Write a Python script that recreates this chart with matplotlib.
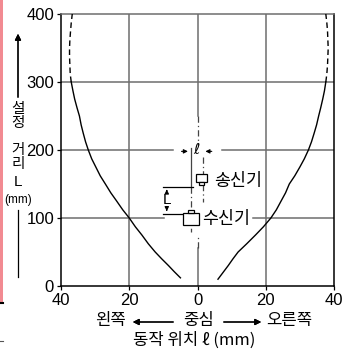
import matplotlib
matplotlib.use('Agg')
import matplotlib.pyplot as plt
from matplotlib import font_manager
from matplotlib.patches import Rectangle

# 곡선 데이터 (동작 위치 ℓ, 설정 거리 L)
left_x = [-5, -6.8, -8.5, -10.5, -12.4, -14.4, -16.3, -18.2, -20, -21.9, -23.7, -25.4,
          -27, -28.5, -29.8, -31, -32, -32.8, -33.5, -34.1, -34.6, -35.3, -36, -36.5, -37]
left_y = [12, 21, 30, 40, 50, 62, 75, 87, 100, 112, 125, 137,
          150, 162, 175, 187, 200, 212, 225, 237, 250, 262, 275, 287, 300]
left_dash_x = [-37, -37.3, -37.4, -37.5, -37.5, -37.4, -37.2, -37, -36.7]
left_dash_y = [300, 312, 325, 337, 350, 362, 375, 387, 400]

right_x = [6, 7.5, 9, 10.4, 11.9, 14.4, 17, 19.3, 21.5, 23.1, 24.5, 25.8,
           26.9, 28.5, 30, 31.3, 32.5, 33.4, 34.2, 34.9, 35.5, 36.1, 36.7, 37.2, 37.6]
right_y = [10, 20, 30, 40, 50, 62, 75, 87, 100, 112, 125, 137,
           150, 162, 175, 187, 200, 212, 225, 237, 250, 262, 275, 287, 300]
right_dash_x = [37.6, 37.9, 38.1, 38.2, 38.3, 38.2, 38.1, 37.9, 37.6]
right_dash_y = [300, 312, 325, 337, 350, 362, 375, 387, 400]

xticks = [-40, -20, 0, 20, 40]
xtick_labels = ['40', '20', '0', '20', '40']
yticks = [0, 100, 200, 300, 400]

kr = ['Noto Sans CJK KR', 'DejaVu Sans']
names = {f.name for f in font_manager.fontManager.ttflist}
num_font = 'Liberation Sans Narrow' if 'Liberation Sans Narrow' in names else 'Liberation Sans'

W, H = 342, 354
fig = plt.figure(figsize=(W / 100, H / 100), dpi=100)
ax = fig.add_axes([61 / W, 1 - 286 / H, 273 / W, 272 / H])
ax.set_xlim(-40, 40)
ax.set_ylim(0, 400)

def fx(px):
    return px / W

def fy(py):
    return 1 - py / H

grid = dict(color='#6e6e6e', lw=1.1, zorder=1)
# 세로 격자선
for gx in [-20, 20]:
    ax.plot([gx, gx], [0, 400], **grid)
ax.plot([0, 0], [250, 400], **grid)
ax.plot([0, 0], [0, 56], **grid)
# 가로 격자선 (중앙부 끊김)
ax.plot([-40, 40], [300, 300], **grid)
ax.plot([-40, -7.3], [200, 200], **grid)
ax.plot([7.2, 40], [200, 200], **grid)
ax.plot([-40, -9.7], [100, 100], **grid)
ax.plot([16.3, 40], [100, 100], **grid)

# 곡선
ax.plot(left_x, left_y, color='black', lw=1.0, zorder=3)
ax.plot(left_dash_x, left_dash_y, color='black', lw=1.0, ls=(0, (4, 2.5)), zorder=3)
ax.plot(right_x, right_y, color='black', lw=1.0, zorder=3)
ax.plot(right_dash_x, right_dash_y, color='black', lw=1.0, ls=(0, (4, 2.5)), zorder=3)

# 중심선/광축 (일점쇄선)
dd = dict(color='#444444', lw=0.9, ls=(0, (5, 2.5, 1, 2.5)), zorder=2)
ax.plot([0, 0], [250, 207], **dd)
ax.plot([0, 0], [56, 75], **dd)
ax.plot([1.5, 1.5], [190, 124], **dd)
ax.plot([-2, -2], [146, 80], **dd)
ax.plot([-2, -2], [146, 203], color='#444444', lw=0.9, zorder=2)

# ℓ 치수
arr = dict(arrowstyle='-|>', color='black', lw=0.8, mutation_scale=6)
ax.annotate('', xy=(-2, 198), xytext=(-5.5, 198), arrowprops=arr)
ax.annotate('', xy=(1.5, 198), xytext=(5, 198), arrowprops=arr)
ax.text(-0.2, 200, 'ℓ', fontsize=11, ha='center', va='center', family=['DejaVu Sans'])

# L 치수
ax.plot([-10.1, -1.4], [146, 146], color='black', lw=0.9)
ax.plot([-10.1, -4.3], [106, 106], color='black', lw=0.9)
ax.annotate('', xy=(-9, 146), xytext=(-9, 136), arrowprops=arr)
ax.annotate('', xy=(-9, 106), xytext=(-9, 116), arrowprops=arr)
ax.text(-9, 126, 'L', fontsize=11, ha='center', va='center', family=num_font)

# 송신기 / 수신기 기호
box = dict(fill=True, facecolor='white', edgecolor='black', lw=0.9, zorder=4)
ax.add_patch(Rectangle((-0.5, 153), 3.2, 12, **box))
ax.add_patch(Rectangle((0.4, 148), 1.4, 5, **box))
ax.add_patch(Rectangle((-4.2, 90), 4.6, 17, **box))
ax.add_patch(Rectangle((-2.8, 107), 1.8, 5, **box))
ax.text(5.0, 155, '송신기', fontsize=12.5, ha='left', va='center', family=kr)
ax.text(1.3, 99, '수신기', fontsize=12.5, ha='left', va='center', family=kr)

# 축
ax.set_xticks(xticks)
ax.set_xticklabels(xtick_labels)
ax.set_yticks(yticks)
ax.tick_params(length=3, width=0.9, pad=2, labelsize=12)
for lab in ax.get_xticklabels() + ax.get_yticklabels():
    lab.set_family(num_font)
for s in ['left', 'bottom', 'right']:
    ax.spines[s].set_color('black')
    ax.spines[s].set_linewidth(1.1)
ax.spines['top'].set_color('#6e6e6e')
ax.spines['top'].set_linewidth(1.1)

# 아래쪽 축 제목
fig.text(fx(111), fy(321), '왼쪽', fontsize=12, ha='center', va='center', family=kr)
fig.text(fx(199), fy(321), '중심', fontsize=12, ha='center', va='center', family=kr)
fig.text(fx(289), fy(321), '오른쪽', fontsize=12, ha='center', va='center', family=kr)
farr = dict(arrowstyle='-|>', color='black', lw=0.9, mutation_scale=9)
fig.add_artist(plt.annotate('', xy=(fx(130), fy(322)), xytext=(fx(176), fy(322)),
                            xycoords='figure fraction', arrowprops=farr))
fig.add_artist(plt.annotate('', xy=(fx(264), fy(322)), xytext=(fx(221), fy(322)),
                            xycoords='figure fraction', arrowprops=farr))
fig.text(fx(194), fy(340), '동작 위치 ℓ (mm)', fontsize=12, ha='center', va='center',
         family=['Noto Sans CJK KR', 'DejaVu Sans'])

# 왼쪽 축 제목 (세로 배치)
for txt, py in [('설', 109), ('정', 123), ('거', 150), ('리', 164)]:
    fig.text(fx(18), fy(py), txt, fontsize=10.5, ha='center', va='center', family=kr)
fig.text(fx(18), fy(182), 'L', fontsize=11, ha='center', va='center', family=num_font)
fig.text(fx(18), fy(200), '(mm)', fontsize=8.5, ha='center', va='center', family=num_font)
fig.add_artist(plt.annotate('', xy=(fx(18), fy(31)), xytext=(fx(18), fy(100)),
                            xycoords='figure fraction', arrowprops=farr))
fig.add_artist(plt.Line2D([fx(18), fx(18)], [fy(210), fy(277)], color='black', lw=0.9))

# 왼쪽 가장자리 분홍 띠
fig.add_artist(Rectangle((0, fy(302)), fx(3), 302 / H, transform=fig.transFigure,
                         facecolor='#f28a92', edgecolor='none'))
fig.add_artist(plt.Line2D([0, fx(3)], [fy(303), fy(303)], color='black', lw=1.5))
fig.add_artist(plt.Line2D([0, fx(3)], [fy(341), fy(341)], color='#555555', lw=0.8))

fig.savefig('out.png', dpi=100)
